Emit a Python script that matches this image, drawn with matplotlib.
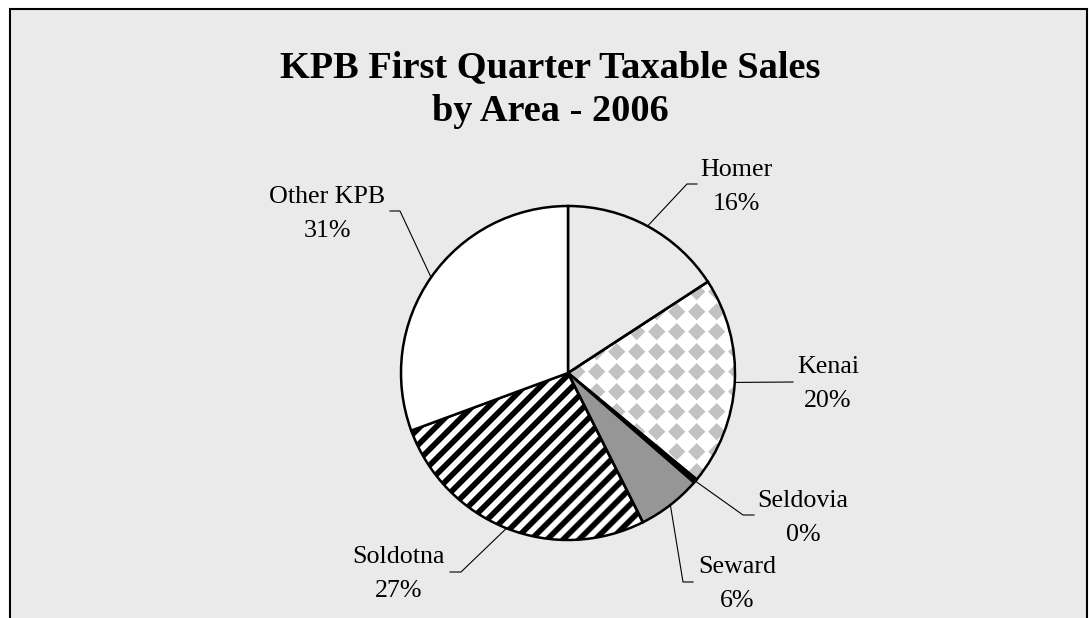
import numpy as np
import matplotlib.pyplot as plt
from matplotlib.patches import Rectangle

# data (percent of taxable sales, clockwise from 12 o'clock)
areas = ['Homer', 'Kenai', 'Seldovia', 'Seward', 'Soldotna', 'Other KPB']
shares = [15.8, 20.2, 0.4, 6.2, 26.8, 30.6]
title_lines = ['KPB First Quarter Taxable Sales', 'by Area - 2006']

W, H = 1091, 618
BG = '#eaeaea'
plt.rcParams['font.family'] = ['Liberation Serif', 'DejaVu Serif']

fig = plt.figure(figsize=(W / 100, H / 100), dpi=100, facecolor='white')
ax = fig.add_axes([0, 0, 1, 1])

# chart area frame
ax.add_patch(Rectangle((10, 9), 1077, 640, facecolor=BG, edgecolor='black',
                       linewidth=1.5, zorder=0))

#%% pie (axes work in pixels, y pointing down)
cx, cy, R = 568, 373, 167
fills = [BG, 'none', 'black', '#969696', 'none', 'white']
wedges, _ = ax.pie(shares, startangle=-90, counterclock=True,
                   center=(cx, cy), radius=R, colors=fills,
                   wedgeprops=dict(edgecolor='black', linewidth=1.8, zorder=3))

# fill textures: grey diamonds for Kenai, black diagonal stripes for Soldotna
u, v = np.meshgrid(np.arange(W) + 0.5, np.arange(H) + 0.5)
P = 20.0
du = ((u - 16.7 + P / 2) % P) - P / 2
dv = ((v - 11.7 + P / 2) % P) - P / 2
dist = np.abs(du) + np.abs(dv)
diam = np.clip(8.6 - dist + 0.5, 0, 1)
g = 1 - diam * (1 - 0xc2 / 255)
im = ax.imshow(np.dstack([g, g, g]), extent=(0, W, H, 0), origin='upper',
               aspect='auto', zorder=2, interpolation='nearest')
im.set_clip_path(wedges[1])

T = 11.3
s = (u + v) / np.sqrt(2)
g2 = np.clip(0.5 - 1.6 * np.cos(2 * np.pi * s / T), 0, 1)
im2 = ax.imshow(np.dstack([g2, g2, g2]), extent=(0, W, H, 0), origin='upper',
                aspect='auto', zorder=2, interpolation='nearest')
im2.set_clip_path(wedges[4])

#%% labels with leader lines
cum = np.cumsum([0] + shares)
mid = np.radians((cum[:-1] + cum[1:]) / 2 / cum[-1] * 360)
sx = cx + R * np.sin(mid)
sy = cy - R * np.cos(mid)

label_x = [736, 828, 803, 737, 399, 327]
label_base = [176, 373, 507, 573, 563, 203]
leader_pts = [[(687, 184), (697, 184)],
              [(793, 382)],
              [(743, 515), (754, 515)],
              [(683, 582), (693, 582)],
              [(461, 572), (450, 572)],
              [(400, 211), (390, 211)]]

for i, name in enumerate(areas):
    ax.text(label_x[i], label_base[i], name, ha='center', va='baseline',
            fontsize=18.7)
    ax.text(label_x[i], label_base[i] + 34, f'{round(shares[i]):.0f}%',
            ha='center', va='baseline', fontsize=18.7)
    xs = [sx[i]] + [p[0] for p in leader_pts[i]]
    ys = [sy[i]] + [p[1] for p in leader_pts[i]]
    ax.plot(xs, ys, color='black', linewidth=0.8, zorder=4)

#%% title
ax.text(550, 77, title_lines[0], ha='center', va='baseline', fontsize=27.6,
        fontweight='bold')
ax.text(550, 121, title_lines[1], ha='center', va='baseline', fontsize=27.6,
        fontweight='bold')

ax.set_xlim(0, W)
ax.set_ylim(H, 0)
ax.set_aspect('auto')
ax.axis('off')

fig.savefig('out.png', dpi=100, facecolor='white')
